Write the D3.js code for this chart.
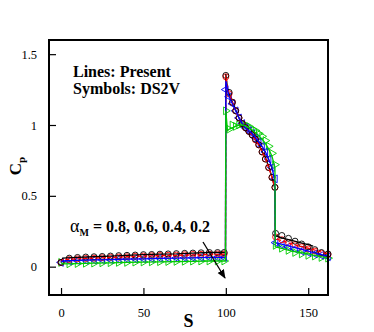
<!DOCTYPE html>
<html>
<head>
<meta charset="utf-8">
<script src="https://cdn.jsdelivr.net/npm/d3@7"></script>
<style>
  body { margin: 0; background: #fff; }
</style>
</head>
<body>
<svg></svg>
<script>
var width = 374;
var height = 332;
var margin = {left: 49, top: 40, right: 46, bottom: 37};
var serif = '"Liberation Serif", "Times New Roman", Times, serif';

// alpha_M of each case
var alphas = [0.8, 0.6, 0.4, 0.2];
var colors = ['black', 'red', 'blue', '#00cc00'];

// lines: present results, common S grid
var lineS = [0, 1, 10, 20, 30, 40, 50, 60, 70, 80, 90, 99.8,
  100, 101, 102, 104, 106, 108, 110, 112, 114, 116, 118, 120, 122, 124, 126, 128, 129.8,
  130, 132, 135, 140, 145, 150, 153, 156, 160, 162];
var lineCp08 = [0.03, 0.06, 0.065, 0.07, 0.075, 0.08, 0.085, 0.088, 0.09, 0.095, 0.1, 0.1,
  1.36, 1.26, 1.22, 1.16, 1.105, 1.05, 1.01, 0.98, 0.955, 0.935, 0.9, 0.865, 0.815, 0.77, 0.705, 0.635, 0.55,
  0.22, 0.21, 0.2, 0.185, 0.17, 0.155, 0.145, null, null, null];
var lineCp06 = [0.03, 0.05, 0.055, 0.06, 0.065, 0.07, 0.075, 0.078, 0.08, 0.083, 0.086, 0.088,
  1.35, 1.26, 1.22, 1.16, 1.1, 1.05, 1.01, 0.98, 0.955, 0.93, 0.895, 0.86, 0.81, 0.765, 0.7, 0.63, 0.55,
  0.2, 0.19, 0.18, 0.16, 0.145, 0.13, 0.12, 0.11, 0.095, 0.09];
var lineCp04 = [0.03, 0.04, 0.045, 0.048, 0.05, 0.053, 0.055, 0.058, 0.06, 0.062, 0.065, 0.066,
  1.31, 1.25, 1.2, 1.15, 1.1, 1.05, 1.01, 0.98, 0.96, 0.94, 0.91, 0.88, 0.85, 0.81, 0.76, 0.7, 0.6,
  0.17, 0.165, 0.155, 0.14, 0.125, 0.11, 0.1, 0.09, 0.08, 0.075];
var lineCp02 = [0.03, 0.02, 0.022, 0.025, 0.027, 0.03, 0.032, 0.034, 0.035, 0.037, 0.04, 0.04,
  1.1, 0.96, 0.97, 0.98, 0.99, 1.0, 1.0, 0.995, 0.98, 0.965, 0.945, 0.925, 0.9, 0.87, 0.83, 0.78, 0.7,
  0.14, 0.135, 0.125, 0.11, 0.1, 0.09, 0.082, 0.075, 0.065, 0.06];

// symbols: DS2V
var symS = [0, 5, 10, 15, 20, 25, 30, 35, 40, 45, 50, 55, 60, 65, 70, 75, 80, 85, 90, 95, 99,
  100, 102, 104, 106, 108, 110, 112, 114, 116, 118, 120, 122, 124, 126, 128, 129.8,
  130.2, 134, 138, 142, 146, 150, 154, 158, 162];
var symCp08 = [0.03, 0.06, 0.065, 0.068, 0.07, 0.072, 0.075, 0.078, 0.08, 0.082, 0.085, 0.086, 0.088, 0.09, 0.092, 0.094, 0.096, 0.098, 0.1, 0.1, 0.1,
  1.35, 1.23, 1.16, 1.1, 1.05, 1.01, 0.98, 0.955, 0.93, 0.9, 0.86, 0.81, 0.76, 0.7, 0.63, 0.56,
  0.235, 0.22, 0.2, 0.18, 0.16, 0.14, 0.12, 0.1, 0.09];
var symCp06 = [0.03, 0.05, 0.055, 0.058, 0.06, 0.063, 0.066, 0.068, 0.07, 0.073, 0.075, 0.077, 0.079, 0.08, 0.082, 0.084, 0.086, 0.087, 0.088, 0.09, 0.09,
  1.34, 1.22, 1.16, 1.1, 1.05, 1.01, 0.98, 0.955, 0.93, 0.895, 0.86, 0.81, 0.76, 0.7, 0.63, 0.56,
  0.21, 0.19, 0.17, 0.155, 0.14, 0.125, 0.11, 0.095, 0.085];
var symCp04 = [0.03, 0.04, 0.043, 0.045, 0.047, 0.049, 0.05, 0.052, 0.054, 0.055, 0.056, 0.058, 0.06, 0.06, 0.062, 0.063, 0.064, 0.065, 0.066, 0.066, 0.065,
  1.25, 1.2, 1.15, 1.1, 1.05, 1.01, 0.98, 0.96, 0.94, 0.91, 0.88, 0.85, 0.81, 0.76, 0.7, 0.62,
  0.17, 0.155, 0.14, 0.125, 0.11, 0.1, 0.09, 0.08, 0.07];
var symCp02 = [0.03, 0.02, 0.022, 0.024, 0.025, 0.027, 0.028, 0.03, 0.03, 0.032, 0.033, 0.034, 0.035, 0.036, 0.037, 0.038, 0.039, 0.04, 0.04, 0.04, 0.04,
  1.1, 0.97, 1.0, 0.99, 1.0, 1.01, 1.0, 0.99, 0.97, 0.96, 0.94, 0.92, 0.89, 0.85, 0.8, 0.72,
  0.15, 0.13, 0.115, 0.1, 0.09, 0.08, 0.075, 0.065, 0.06];

var xTicks = [0, 50, 100, 150];
var yTicks = [0, 0.5, 1, 1.5];

var lineSets = [lineCp08, lineCp06, lineCp04, lineCp02];
var symSets = [symCp08, symCp06, symCp04, symCp02];

var svg = d3.select('svg')
    .attr('width', width)
    .attr('height', height)
    .attr('font-family', serif);

var x = d3.scaleLinear().domain([-7.3, 162]).range([margin.left, width - margin.right]);
var y = d3.scaleLinear().domain([-0.2, 1.6]).range([height - margin.bottom, margin.top]);

var plot = svg.append('g');

// symbols first, green at the bottom
var triangle = d3.symbol().type(d3.symbolTriangle).size(26);
for (var i = 3; i >= 0; i--) {
    var pts = symS.map(function(s, j) { return [s, symSets[i][j]]; });
    var g = plot.append('g')
        .attr('fill', 'none')
        .attr('stroke', colors[i])
        .attr('stroke-width', 0.9);
    if (i < 2) {
        g.selectAll('circle').data(pts).enter().append('circle')
            .attr('cx', function(d) { return x(d[0]); })
            .attr('cy', function(d) { return y(d[1]); })
            .attr('r', 3);
    } else {
        var rot = i == 2 ? -90 : 90;
        g.selectAll('path').data(pts).enter().append('path')
            .attr('d', triangle)
            .attr('transform', function(d) {
                return 'translate(' + x(d[0]) + ',' + y(d[1]) + ') rotate(' + rot + ')';
            });
    }
}

// lines, black first so green ends up on top
var line = d3.line()
    .defined(function(d) { return d[1] != null; })
    .x(function(d) { return x(d[0]); })
    .y(function(d) { return y(d[1]); });

for (var i = 0; i < 4; i++) {
    var pts = lineS.map(function(s, j) { return [s, lineSets[i][j]]; });
    plot.append('path')
        .datum(pts)
        .attr('d', line)
        .attr('fill', 'none')
        .attr('stroke', colors[i])
        .attr('stroke-width', 1.3)
        .attr('stroke-dasharray', i == 1 ? '4,2' : null);
}

// frame
svg.append('rect')
    .attr('x', x.range()[0])
    .attr('y', y.range()[1])
    .attr('width', x.range()[1] - x.range()[0])
    .attr('height', y.range()[0] - y.range()[1])
    .attr('fill', 'none')
    .attr('stroke', 'black')
    .attr('stroke-width', 2);

// axes with inward ticks
var xAxis = svg.append('g')
    .attr('transform', 'translate(0,' + y.range()[0] + ')');
xAxis.call(d3.axisBottom(x).tickValues(d3.range(0, 161, 10)).tickSize(-3.5).tickFormat(''));
xAxis.call(d3.axisBottom(x).tickValues(xTicks).tickSize(-7).tickPadding(13).tickFormat(d3.format('d')));

var yAxis = svg.append('g')
    .attr('transform', 'translate(' + x.range()[0] + ',0)');
yAxis.call(d3.axisLeft(y).tickValues(d3.range(-10, 16, 1).map(function(v) { return v / 10; })).tickSize(-3.5).tickFormat(''));
yAxis.call(d3.axisLeft(y).tickValues(yTicks).tickSize(-7).tickPadding(12).tickFormat(function(d) { return d; }));

svg.selectAll('.domain').remove();
svg.selectAll('g').attr('font-family', serif);
svg.selectAll('.tick line').attr('stroke', 'black').attr('stroke-width', 1.2);
svg.selectAll('.tick text')
    .attr('font-family', serif)
    .attr('font-size', 12.5)
    .attr('fill', 'black');

// axis titles
svg.append('text')
    .attr('x', (x.range()[0] + x.range()[1]) / 2)
    .attr('y', 327)
    .attr('text-anchor', 'middle')
    .attr('font-family', serif)
    .attr('font-size', 18)
    .attr('font-weight', 'bold')
    .text('S');

var cp = svg.append('text')
    .attr('transform', 'translate(21,166) rotate(-90)')
    .attr('text-anchor', 'middle')
    .attr('font-family', serif)
    .attr('font-size', 17)
    .attr('font-weight', 'bold');
cp.append('tspan').text('C');
cp.append('tspan').attr('font-size', 11).attr('dy', 4).text('p');

// annotations
svg.append('text').attr('x', 73).attr('y', 77)
    .attr('font-family', serif)
    .attr('font-size', 16).attr('font-weight', 'bold').text('Lines: Present');
svg.append('text').attr('x', 73).attr('y', 94)
    .attr('font-family', serif)
    .attr('font-size', 16).attr('font-weight', 'bold').text('Symbols: DS2V');

var al = svg.append('text').attr('x', 70).attr('y', 232)
    .attr('font-family', serif)
    .attr('font-size', 16).attr('font-weight', 'bold');
al.append('tspan').attr('font-weight', 'normal').attr('font-size', 18).text('\u03b1');
al.append('tspan').attr('font-size', 10).attr('dy', 4).text('M');
al.append('tspan').attr('dy', -4).text(' = ' + alphas.join(', '));

// arrow
svg.append('defs').append('marker')
    .attr('id', 'head')
    .attr('viewBox', '0 0 10 10')
    .attr('refX', 9).attr('refY', 5)
    .attr('markerWidth', 7).attr('markerHeight', 7)
    .attr('orient', 'auto')
    .append('path').attr('d', 'M0,1 L10,5 L0,9 Z').attr('fill', 'black');
svg.append('line')
    .attr('x1', 203).attr('y1', 242)
    .attr('x2', 225).attr('y2', 278)
    .attr('stroke', 'black')
    .attr('stroke-width', 1.3)
    .attr('marker-end', 'url(#head)');
</script>
</body>
</html>
